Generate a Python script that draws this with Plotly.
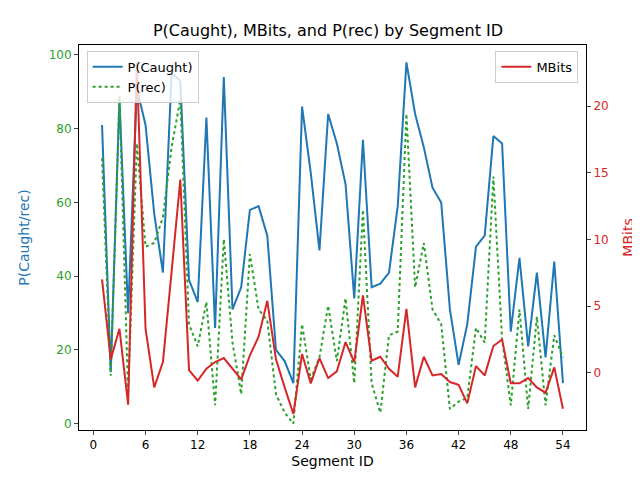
import plotly.graph_objects as go

segment_id = list(range(1, 55))

p_caught = [81, 14, 88, 30, 91, 81, 57, 41, 95, 93, 39, 33, 83, 26, 94, 31, 37, 58, 59, 51,
            20, 17, 11, 86, 68, 47, 84, 76, 65, 34, 77, 37, 38, 41, 59, 98, 84, 75, 64, 60,
            31, 16, 27, 48, 51, 78, 76, 25, 45, 21, 41, 18, 44, 11]

p_rec = [72, 13, 89, 8, 76, 48, 49, 56, 75, 88, 27, 21, 33, 5, 50, 22, 8, 46, 31, 28,
         8, 3, 0, 27, 12, 18, 32, 17, 34, 11, 58, 11, 3, 24, 25, 84, 37, 49, 31, 27,
         4, 6, 7, 26, 22, 67, 23, 5, 31, 4, 29, 5, 24, 18]

mbits = [7.0, 1.0, 3.3, -2.4, 23.3, 3.3, -1.1, 0.8, 7.6, 14.5, 0.2, -0.6, 0.3, 0.8, 1.1, 0.3,
         -0.5, 1.3, 2.7, 5.4, 1.0, -1.1, -3.1, 1.4, -0.8, 1.1, -0.4, 0.1, 2.3, 0.8, 5.8, 0.9,
         1.2, 0.3, -0.3, 4.8, -1.1, 1.2, -0.2, -0.1, -0.7, -0.9, -2.3, 0.5, -0.2, 2.0, 2.5,
         -0.8, -0.8, -0.4, -1.1, -1.5, 0.4, -2.7]

fig = go.Figure()
fig.add_trace(go.Scatter(x=segment_id, y=p_caught, name="P(Caught)", mode="lines",
                         line=dict(color="#1f77b4", width=2), legend="legend"))
fig.add_trace(go.Scatter(x=segment_id, y=p_rec, name="P(rec)", mode="lines",
                         line=dict(color="#2ca02c", width=2, dash="dot"), legend="legend"))
fig.add_trace(go.Scatter(x=segment_id, y=mbits, name="MBits", mode="lines", yaxis="y2",
                         line=dict(color="#d62728", width=2), legend="legend2"))

fig.update_layout(
    width=640, height=480,
    paper_bgcolor="white", plot_bgcolor="white",
    font=dict(family="DejaVu Sans", size=12, color="black"),
    margin=dict(l=71, r=62, t=37, b=58),
    title=dict(text="P(Caught), MBits, and P(rec) by Segment ID", x=0.5, y=0.965,
               xanchor="center", font=dict(size=16)),
    xaxis=dict(title=dict(text="Segment ID", standoff=4), range=[-1.65, 56.65],
               tickvals=list(range(0, 55, 6)), showgrid=False, zeroline=False,
               showline=True, linecolor="black", mirror=True, ticks="outside", ticklen=4),
    yaxis=dict(title=dict(text="P(Caught/rec)", font=dict(color="#1f77b4")),
               range=[-1.7, 102.7], tickvals=[0, 20, 40, 60, 80, 100],
               tickfont=dict(color="#2ca02c"), showgrid=False, zeroline=False,
               showline=True, linecolor="black", ticks="outside", ticklen=4),
    yaxis2=dict(title=dict(text="MBits", font=dict(color="#d62728")), overlaying="y",
                side="right", range=[-4.3, 24.6], tickvals=[0, 5, 10, 15, 20],
                tickfont=dict(color="#d62728"), showgrid=False, zeroline=False,
                showline=True, linecolor="black", ticks="outside", ticklen=4),
    legend=dict(x=0.015, y=0.985, xanchor="left", yanchor="top", bgcolor="rgba(255,255,255,0.8)",
                bordercolor="#cccccc", borderwidth=1, font=dict(size=13)),
    legend2=dict(x=0.985, y=0.985, xanchor="right", yanchor="top", bgcolor="rgba(255,255,255,0.8)",
                 bordercolor="#cccccc", borderwidth=1, font=dict(size=13)),
)

fig.write_html("out.html")
